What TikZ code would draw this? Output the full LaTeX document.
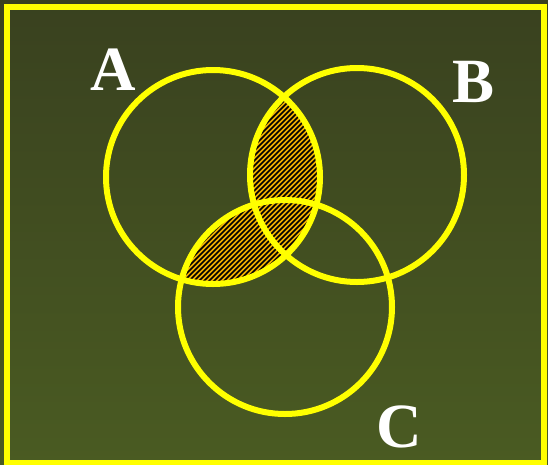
\documentclass[tikz,border=0pt]{standalone}
\usepackage{fontspec}
\setmainfont{Liberation Serif}
\definecolor{bgtop}{HTML}{39411F}
\definecolor{bgbot}{HTML}{4A5B22}
\definecolor{ylw}{HTML}{FFFF00}
\definecolor{hatch}{HTML}{F0B000}
\begin{document}
\begin{tikzpicture}[x=1pt,y=-1pt,
  ring/.style={draw=ylw,line width=6pt},
  lbl/.style={text=white,font=\fontsize{63}{65}\selectfont\bfseries,inner sep=0pt},
  stripe/.style={black,line width=1.5pt}]
\useasboundingbox (0,0) rectangle (548,464);
\shade[top color=bgtop,bottom color=bgbot] (0,0) rectangle (548,464);
\draw[ylw,line width=6pt] (7,7) rectangle (544,463);
% hatched regions: A and B, A and C
\foreach \other in {{(357,175)},{(285,307)}}{
  \begin{scope}
    \clip (213,177) circle (107);
    \clip \other circle (107);
    \fill[hatch] (150,60) rectangle (340,300);
    \foreach \k in {-60,-55,...,420}{
      \draw[stripe] (\k,300) -- ++(240,-240);
    }
  \end{scope}
}
\draw[ring] (213,177) circle (107);
\draw[ring] (357,175) circle (107);
\draw[ring] (285,307) circle (107);
\node[lbl] (la) at (113,70) {A};
\node[lbl] (lb) at (474,82) {B};
\node[lbl] (lc) at (399,427) {C};
\end{tikzpicture}
\end{document}
